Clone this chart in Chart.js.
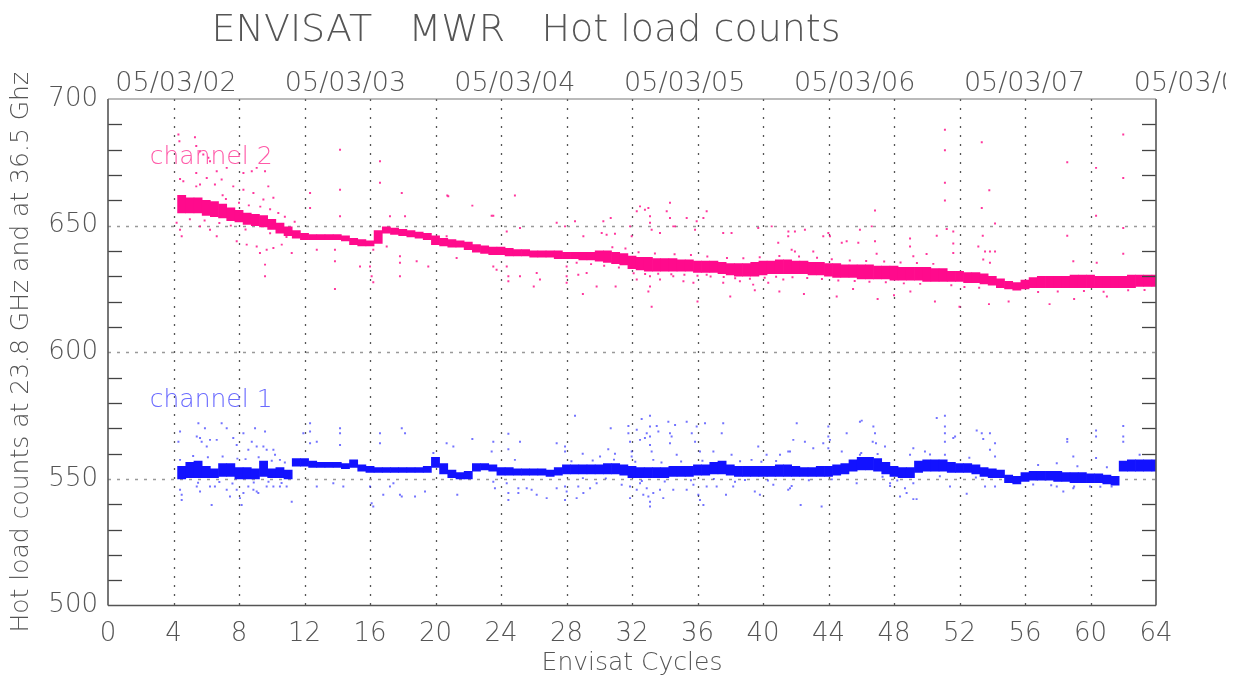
<!DOCTYPE html>
<html>
<head>
<meta charset="utf-8">
<script src="https://cdn.jsdelivr.net/npm/chart.js@4.4.1/dist/chart.umd.min.js"></script>
<style>
html,body{margin:0;padding:0;background:#fff;}
#wrap{width:1234px;height:678px;position:relative;}
</style>
</head>
<body>
<div id="wrap"><canvas id="c" width="1234" height="678"></canvas></div>
<script>
// ---------- DATA ----------
const titleText = 'ENVISAT   MWR   Hot load counts';
const xTitle = 'Envisat Cycles';
const yTitle = 'Hot load counts at 23.8 GHz and at 36.5 Ghz';
const seriesNames = ['channel 1', 'channel 2'];

// top axis (dates) : position in cycles and label
const topTickCycles = [4.15, 14.5, 24.85, 35.22, 45.6, 55.97, 66.35];
const topTickLabels = ['05/03/02', '05/03/03', '05/03/04', '05/03/05', '05/03/06', '05/03/07', '05/03/08'];

// main band: cycle centres (0.5 cycle bins)
const bandX = [
 4.5,5,5.5,6,6.5,7,7.5,8,8.5,9,
 9.5,10,10.5,11,11.5,12,12.5,13,13.5,14,
 14.5,15,15.5,16,16.5,17,17.5,18,18.5,19,
 19.5,20,20.5,21,21.5,22,22.5,23,23.5,24,
 24.5,25,25.5,26,26.5,27,27.5,28,28.5,29,
 29.5,30,30.5,31,31.5,32,32.5,33,33.5,34,
 34.5,35,35.5,36,36.5,37,37.5,38,38.5,39,
 39.5,40,40.5,41,41.5,42,42.5,43,43.5,44,
 44.5,45,45.5,46,46.5,47,47.5,48,48.5,49,
 49.5,50,50.5,51,51.5,52,52.5,53,53.5,54,
 54.5,55,55.5,56,56.5,57,57.5,58,58.5,59,
 59.5,60,60.5,61,61.5,62,62.5,63,63.5,64];

// channel 2 (36.5 GHz) band low / high
const ch2Lo = [
 655,655,655,654,653.5,653,652,651.5,650.5,650,
 649.5,648.5,647,646,645,644.5,644.5,644.5,644.5,644.5,
 644,642.5,642,642,643,647,646.5,646,645.5,645,
 644.5,642.5,642,641.5,641.5,640.5,639.5,639,638.5,638.5,
 638,638,638,637.5,637.5,637.5,637,637,637,636.5,
 636.5,636,635.5,635,634.5,633,632.5,632,632,632,
 632,632,632,631.5,631.5,631.5,631,630.5,630,630,
 630,630.5,631,631,631,631,631,630.5,630.5,630,
 629.5,629.5,629.5,629,629,629,629,628.5,628.5,628.5,
 628.5,628,628,628,628,628,627.5,627.5,627,626.5,
 625.5,625,624.5,625,625.5,625.5,625.5,625.5,625.5,625.5,
 625.5,625.5,625.5,625.5,625.5,625.5,625.5,626,626,626];
const ch2Hi = [
 662,661,661,660,659.5,658.5,657,656,655,654.5,
 654,652.5,651,649.5,648,647,646.5,646.5,646.5,646.5,
 646,645,644.5,644,648,649.5,649,648.5,648,647.5,
 647,646,645,644.5,644,643.5,642.5,642,641.5,641.5,
 641,640.5,640.5,640,640,640,640,639.5,639.5,639.5,
 639.5,640,640,639.5,639,638,637.5,637.5,637,637,
 637,636.5,636.5,636,636,636,635.5,635,635,635,
 635.5,636,636,636.5,636.5,636,636,635.5,635.5,635,
 635,634.5,634.5,634.5,634.5,634,634,634,633.5,633.5,
 633.5,633.5,633,633,632,632,631.5,631.5,631,630,
 629,628,627.5,628.5,629.5,630,630,630,630,630.5,
 630.5,630.5,630,630,630,630,630.5,630.5,630.5,630.5];

// channel 1 (23.8 GHz) band low / high
const ch1Lo = [
 550,550.5,550.5,550.5,550.5,551,551,550,550,550,
 551,550.5,550.5,550,555,555,554.5,554.5,554.5,554.5,
 554,554.5,553,552.5,552.5,552.5,552.5,552.5,552.5,552.5,
 552.5,554.5,552,550.5,550,550,553,553.5,553,551.5,
 551.5,551.5,551.5,551.5,551.5,551,551.5,552,552,552,
 552,552,552,552,551.5,550.5,550.5,550.5,550.5,550.5,
 551,551,551,551.5,551.5,552,552,551.5,551,551,
 551,551,551,551,551,551,551,551,551,551,
 551.5,552,553,553.5,553.5,553,552,551,550.5,550.5,
 552.5,553,553,553,552.5,552.5,552.5,552,551,550.5,
 550.5,548.5,548,549,549.5,549.5,549.5,549,549,548.5,
 548.5,548.5,548.5,548,547.5,553,553,553,553,553];
const ch1Hi = [
 555,556.5,557,555,554,556,556,554.5,554.5,554,
 557,554,554.5,553.5,558,558,557,556.5,556.5,556.5,
 556,557.5,555.5,555,554.5,554.5,554.5,554.5,554.5,554.5,
 555,558.5,556,553.5,552.5,553,556,556,555.5,554.5,
 554.5,554,554,554,554,553.5,554.5,555.5,555.5,555.5,
 555.5,555.5,556,556,555.5,555,554.5,554.5,554.5,554.5,
 555,555,555,555.5,555.5,556.5,557,555.5,555,555,
 555,555,555,555.5,555.5,555,554.5,554.5,555,555,
 555.5,556,557.5,558.5,558.5,558,556.5,555,554.5,554.5,
 557,557.5,557.5,557.5,556.5,556,556,555.5,554.5,554,
 553.5,551.5,551,552.5,553,553,553,553,552.5,552.5,
 552.5,552,552,551.5,551,557,557.5,557.5,557.5,557.5];

// scattered (outlier) samples [cycle, count]
const ch2Scatter = [
 [4.30,686.0],[4.36,683.3],[5.31,684.9],[5.39,681.4],[5.62,679.4],[5.82,678.1],[6.13,676.8],[6.23,675.4],
 [4.40,668.4],[4.60,667.5],[5.39,670.8],[6.03,668.8],[6.64,671.5],[7.25,672.8],[6.53,666.2],[5.39,665.5],
 [5.62,666.2],[6.94,668.2],[7.65,665.5],[8.27,670.8],[8.78,671.5],[9.08,672.8],[9.59,671.5],[8.27,664.2],
 [8.88,662.9],[9.49,660.3],[10.10,661.0],[9.79,665.5],
 [4.19,651.1],[4.40,648.4],[4.50,645.8],[5.62,649.7],[6.23,648.4],[6.64,645.8],[7.86,643.8],[8.47,642.5],
 [9.08,641.8],[9.28,639.2],[9.69,640.5],[10.10,641.2],[10.61,642.5],[11.22,639.2],[9.59,634.6],[9.59,630.0],
 [5.0,652.5],[5.9,652.0],[6.8,651.0],[7.2,660.5],[7.5,650.0],[8.0,659.0],[8.6,658.0],[9.3,657.5],[9.9,656.5],
 [10.4,655.0],[10.8,653.5],[11.4,651.5],[7.0,662.0],[8.4,648.5],[9.9,647.0],[10.9,645.5],
 [12.34,662.9],[12.34,657.0],[14.17,680.0],[14.17,664.2],[14.17,653.7],[12.75,640.5],[13.86,640.5],[13.86,635.9],
 [15.39,633.9],[16.61,675.4],[16.61,666.9],[17.22,653.7],[17.94,662.9],[18.14,653.7],[16.20,640.5],[16.00,633.9],
 [16.10,630.0],[16.20,627.6],[17.02,641.8],[17.83,637.9],[17.83,635.3],[18.85,635.9],[19.56,633.9],[20.78,661.6],
 [17.83,630.0],[13.86,625.0],
 [20.72,661.9],[22.25,657.9],[24.85,661.9],[23.43,653.9],[23.53,653.9],[24.35,647.7],[25.16,649.1],[27.40,651.1],
 [27.91,649.7],[28.52,651.7],[29.03,645.8],[30.25,651.7],[30.70,653.0],[30.15,647.1],[30.45,646.4],[30.96,646.8],
 [31.88,649.7],[31.98,645.8],[32.29,655.7],[32.49,657.6],[32.79,656.3],[33.00,657.0],[33.10,653.7],[33.10,651.1],
 [33.20,648.4],[33.71,647.1],[34.32,659.0],[34.12,655.7],[34.32,653.0],[34.52,649.7],[34.63,649.7],[35.34,653.0],
 [35.95,651.7],[36.36,653.0],[36.56,655.7],[35.85,648.4],[37.57,647.1],[38.08,647.1],[39.71,649.1],[40.53,649.7],
 [40.93,643.2],[41.54,645.8],[20.68,645.8],
 [21.29,637.2],[23.53,633.9],[23.73,632.6],[24.35,633.9],[24.45,630.0],[24.45,628.0],[25.16,630.0],[26.18,631.3],
 [26.38,628.7],[28.01,633.9],[28.01,630.0],[28.01,627.4],[28.62,635.3],[28.72,630.6],[29.23,631.3],[29.84,626.0],
 [32.29,628.7],[33.10,630.0],[33.10,626.0],[33.71,628.7],[34.52,630.0],[35.14,628.0],[35.75,627.4],[36.56,630.6],
 [37.57,627.4],[38.59,628.0],[39.40,626.7],[40.32,627.4],[41.24,628.7],
 [29.5,634.8],[30.3,634.2],[31.2,633.5],[32.1,631.2],[32.8,630.9],[33.6,631.0],[34.4,630.8],[35.2,630.6],
 [36.0,630.2],[36.8,629.9],[37.6,629.7],[38.3,629.2],[39.2,629.0],[40.1,629.4],[40.8,629.8],[41.8,629.6],
 [42.7,629.3],[43.6,628.9],[44.6,628.3],[45.6,628.1],[46.5,627.8],[47.5,627.6],[48.6,627.2],[49.6,627.0],
 [30.8,641.5],[31.6,641.0],[32.4,639.5],[33.4,639.0],[34.6,638.7],[35.6,638.4],[36.6,637.8],[37.8,637.2],
 [38.8,637.1],[39.8,637.5],[41.0,638.0],[42.2,637.8],[43.3,637.3],[44.2,636.7],[45.3,636.2],[46.3,636.0],
 [47.4,635.8],[48.4,635.4],[49.4,635.2],[50.4,634.9],
 [51.11,687.9],[51.11,679.8],[51.11,666.9],[51.11,659.9],[53.36,682.9],[53.36,657.0],[53.82,664.0],[54.17,650.8],
 [58.58,675.0],[60.34,672.8],[60.34,653.9],[62.00,686.0],[62.00,668.8],[62.00,649.1],[62.00,638.9],[58.58,646.0],
 [46.84,656.0],[46.64,649.7],[45.92,648.4],[43.99,647.1],[44.09,645.8],[43.68,645.8],[41.55,647.7],[41.95,647.7],
 [42.56,648.4],[41.75,640.5],[41.95,639.8],[43.07,639.8],[44.81,643.2],[45.11,643.8],[45.82,643.2],[46.84,643.8],
 [46.94,638.9],[48.98,644.9],[48.98,641.8],[49.18,637.9],[49.99,638.8],[50.61,646.0],[51.22,648.7],[51.62,647.7],
 [51.62,642.9],[51.62,639.2],[53.15,641.8],[53.42,646.0],[53.56,639.8],[53.86,639.8],[54.17,639.8],[53.45,636.6],
 [53.86,635.3],[58.95,635.9],[60.38,635.3],
 [44.5,622],[47,621],[50.5,620],[52,618],[55,620],[57.5,619],[41,624],[38,622],[36,620],[33,624],[33.2,618],
 [29,623],[31,626],[26,626],[42.5,623],[49,624],[53.8,619],[59,621],[61,622],[45.5,625],[39.5,624.5],[48,622.5],
 [51.5,626.5],[52.3,625.8],[53.2,625.5],[56.8,623.8],[58.0,624.0],[59.6,624.2],[60.8,623.9],[62.3,624.5],[63.3,624.6]];

const ch1Scatter = [
 [4.40,568.7],[4.30,564.7],[4.40,557.5],[5.52,572.0],[5.42,566.7],[5.62,566.1],[5.92,570.0],[5.72,564.7],
 [6.03,562.8],[6.23,565.4],[6.64,565.4],[6.94,572.0],[7.25,570.0],[7.65,566.1],[7.86,563.4],[8.27,568.0],
 [8.57,561.5],[8.78,564.7],[8.98,570.0],[9.08,562.8],[9.59,568.7],[9.49,562.8],[9.69,561.5],[10.10,561.5],
 [10.20,559.5],[10.50,557.5],[11.93,568.0],[12.34,572.0],[12.34,568.7],[12.34,564.1],[12.75,564.7],[14.17,570.0],
 [14.17,568.0],[14.17,563.4],[16.61,568.0],[16.61,564.1],[17.94,570.0],[18.14,568.0],[19.87,560.2],
 [4.40,545.7],[4.50,543.7],[4.50,541.7],[5.42,547.0],[5.62,545.0],[6.23,547.0],[6.33,539.7],[6.53,547.0],
 [7.25,545.7],[7.45,543.0],[7.86,545.7],[8.06,542.4],[8.16,539.7],[8.27,544.4],[8.57,547.0],[8.88,545.7],
 [9.08,545.0],[9.18,544.4],[9.69,547.0],[10.10,547.0],[10.50,547.0],[10.91,547.0],[11.22,541.0],[12.75,547.0],
 [13.76,548.3],[14.37,547.0],[16.00,547.0],[16.10,540.4],[16.20,539.1],[16.81,543.7],[17.22,547.0],[17.43,548.3],
 [17.83,543.7],[17.94,543.0],[18.75,543.0],[19.36,545.0],
 [5.2,559.0],[6.1,558.5],[7.0,558.8],[7.9,558.0],[8.4,557.8],[9.2,558.5],[10.0,557.2],[10.8,556.5],
 [5.5,548.5],[6.8,548.8],[7.6,548.2],[8.9,548.6],[9.8,548.9],[10.6,548.4],
 [20.68,564.1],[21.09,562.8],[22.25,565.7],[23.53,564.7],[23.43,560.8],[24.45,567.8],[24.45,561.7],[25.16,564.7],
 [24.85,557.5],[27.40,564.1],[27.91,562.8],[27.91,560.8],[28.52,574.9],[28.99,559.9],[30.05,558.8],[30.70,570.0],
 [30.55,561.7],[30.96,559.9],[31.78,570.9],[31.78,568.0],[31.88,564.7],[31.98,560.8],[31.98,558.8],[32.29,569.4],
 [32.59,573.6],[32.49,565.4],[32.79,566.1],[32.90,568.0],[33.10,574.9],[33.10,570.7],[33.10,566.7],[33.10,563.4],
 [33.20,560.8],[33.30,557.5],[33.51,570.9],[33.61,568.7],[34.22,572.6],[34.32,568.0],[34.32,564.1],[34.42,566.7],
 [34.63,571.3],[34.73,559.5],[35.34,572.6],[35.65,568.0],[35.85,564.7],[35.95,570.7],[36.15,560.8],[36.46,572.0],
 [37.57,572.0],[37.48,568.0],[38.08,559.5],[39.71,562.8],[40.22,559.5],[41.04,559.5],[41.54,560.8],[39.30,557.5],
 [36.97,560.8],
 [28.3,557.0],[29.6,557.3],[30.9,557.6],[32.2,556.8],[33.8,556.5],[35.0,556.9],[36.3,557.2],[38.6,557.0],
 [39.9,556.8],[40.8,557.1],[29.0,550.3],[30.4,550.2],[32.6,549.2],[34.0,549.0],[35.6,549.5],[37.0,550.0],
 [38.9,549.6],[40.3,549.4],[42.8,549.5],[44.2,549.8],
 [21.33,543.7],[23.53,548.9],[23.63,546.3],[24.35,548.3],[24.45,544.4],[24.45,541.7],[25.06,546.3],[25.06,544.4],
 [25.57,546.3],[25.87,545.7],[26.18,543.7],[26.79,542.4],[27.40,546.3],[27.91,547.0],[27.91,541.7],[28.01,545.0],
 [28.62,542.4],[28.72,547.0],[29.03,544.4],[29.44,546.3],[29.84,548.3],[31.37,547.7],[31.88,547.0],[31.88,542.4],
 [32.29,545.7],[32.49,548.3],[32.69,543.7],[32.90,546.3],[33.00,543.0],[33.10,541.0],[33.10,539.1],[33.30,544.4],
 [33.71,545.7],[33.91,542.4],[34.52,545.7],[35.34,545.7],[35.75,547.7],[36.05,543.7],[36.15,541.7],[36.36,539.7],
 [36.56,547.0],[37.17,547.0],[37.74,543.7],[38.18,547.0],[38.29,548.9],[39.50,545.0],[39.81,543.7],[40.63,547.7],
 [41.54,545.7],
 [42.06,572.0],[41.85,565.4],[42.56,564.7],[41.65,560.8],[43.07,562.1],[43.68,564.1],[43.99,570.7],[43.99,566.7],
 [44.09,565.4],[43.99,562.1],[44.81,560.8],[45.11,568.0],[45.92,572.6],[46.03,573.0],[45.92,559.5],[46.74,570.7],
 [46.84,568.0],[46.70,564.7],[46.90,564.1],[47.45,562.8],[49.18,562.1],[48.98,559.5],[49.89,560.8],[50.61,574.0],
 [51.11,574.9],[51.11,570.7],[51.11,568.0],[51.11,564.7],[51.62,566.1],[51.73,566.7],[51.11,559.5],[53.05,569.1],
 [53.36,568.0],[53.45,565.7],[53.86,568.0],[53.86,561.5],[54.17,564.1],[54.17,558.8],[57.94,556.2],[58.58,565.7],
 [58.58,564.7],[58.95,558.8],[60.34,569.1],[60.34,566.7],[60.34,558.2],[62.00,570.9],[62.00,566.7],[62.00,564.7],
 [41.65,546.3],[41.75,547.2],[42.30,539.7],[43.58,539.1],[45.72,548.3],[47.76,548.3],[47.76,547.2],[48.37,543.0],
 [48.67,546.3],[48.77,544.4],[49.18,548.3],[49.18,542.0],[49.38,542.0],[51.42,547.0],[52.44,544.1],[53.56,547.0],
 [54.17,547.0],[57.94,547.0],[58.34,545.0],[58.95,546.3],[59.97,547.0],[61.29,547.0],
 [46.0,560.2],[47.0,559.8],[50.2,559.6],[52.6,558.3],[56.8,555.5],[59.2,555.0],[61.0,554.6],[63.0,559.5],
 [47.3,550.8],[48.2,549.4],[50.8,551.0],[53.0,550.5],[56.5,547.8],[57.6,547.5],[59.0,547.0],[60.6,546.9]];

// axis structure
const xGridLines = [4,8,12,16,20,24,28,32,36,40,44,48,52,56,60];
const yGridLines = [550,600,650];
const yMinorTicks = [510,520,530,540,560,570,580,590,610,620,630,640,660,670,680,690];

// ---------- COLOURS / STYLE ----------
const PINK = '#ff0a8c';
const BLUE = '#1212ff';
const FONT = 'DejaVu Sans';
const FW = '200';
const TXT = '#555';

const bandData = (lo, hi) => bandX.map((x, i) => ({x: x, y: [lo[i], hi[i]]}));
const ptData = arr => arr.map(p => ({x: p[0], y: p[1]}));

const deco = {
  id: 'deco',
  beforeDatasetsDraw(chart) {
    const {ctx, chartArea: a, scales: {x, y}} = chart;
    ctx.save();
    ctx.lineWidth = 1.3;
    ctx.strokeStyle = '#555';
    ctx.setLineDash([2, 7]);
    xGridLines.forEach(v => {
      const px = Math.round(x.getPixelForValue(v)) + 0.5;
      ctx.beginPath(); ctx.moveTo(px, a.top); ctx.lineTo(px, a.bottom); ctx.stroke();
    });
    ctx.strokeStyle = '#999';
    ctx.lineWidth = 1.6;
    ctx.setLineDash([3, 6]);
    yGridLines.forEach(v => {
      const py = Math.round(y.getPixelForValue(v)) + 0.5;
      ctx.beginPath(); ctx.moveTo(a.left, py); ctx.lineTo(a.right, py); ctx.stroke();
    });
    ctx.restore();
  },
  afterDatasetsDraw(chart) {
    const {ctx, chartArea: a, scales: {x, y}} = chart;
    ctx.save();
    ctx.setLineDash([]);
    ctx.strokeStyle = '#444';
    ctx.lineWidth = 1.3;
    yMinorTicks.forEach(v => {
      const py = Math.round(y.getPixelForValue(v)) + 0.5;
      ctx.beginPath(); ctx.moveTo(a.left, py); ctx.lineTo(a.left + 14, py); ctx.stroke();
      ctx.beginPath(); ctx.moveTo(a.right, py); ctx.lineTo(a.right - 14, py); ctx.stroke();
    });
    ctx.strokeStyle = '#555';
    ctx.lineWidth = 1.6;
    ctx.beginPath(); ctx.moveTo(a.left, a.top); ctx.lineTo(a.left, a.bottom); ctx.stroke();
    ctx.beginPath(); ctx.moveTo(a.right, a.top); ctx.lineTo(a.right, a.bottom); ctx.stroke();
    ctx.beginPath(); ctx.moveTo(a.left, a.bottom); ctx.lineTo(a.right, a.bottom); ctx.stroke();
    ctx.strokeStyle = '#777';
    ctx.lineWidth = 1.2;
    ctx.beginPath(); ctx.moveTo(a.left, a.top); ctx.lineTo(a.right, a.top); ctx.stroke();
    ctx.restore();
  },
  afterDraw(chart) {
    const {ctx, chartArea: a, scales: {x, y}} = chart;
    ctx.save();
    ctx.fillStyle = '#555';
    ctx.font = FW + ' 38px "' + FONT + '"';
    ctx.textAlign = 'center';
    ctx.textBaseline = 'alphabetic';
    ctx.fillText(titleText, 526, 41);
    ctx.beginPath(); ctx.rect(0, 0, 1226, 678); ctx.clip();
    ctx.fillStyle = TXT;
    ctx.font = FW + ' 27px "' + FONT + '"';
    topTickCycles.forEach((c, i) => {
      ctx.fillText(topTickLabels[i], x.getPixelForValue(c), 91);
    });
    ctx.restore();
    ctx.save();
    ctx.font = FW + ' 25px "' + FONT + '"';
    ctx.textAlign = 'left';
    ctx.fillStyle = '#ff5aa8';
    ctx.fillText(seriesNames[1], x.getPixelForValue(2.55), y.getPixelForValue(674.5));
    ctx.fillStyle = '#6a6aff';
    ctx.fillText(seriesNames[0], x.getPixelForValue(2.55), y.getPixelForValue(578.5));
    ctx.restore();
  }
};

new Chart(document.getElementById('c'), {
  type: 'bar',
  data: {
    datasets: [
      {label: seriesNames[1] + ' band', data: bandData(ch2Lo, ch2Hi), backgroundColor: PINK, borderWidth: 0,
       barPercentage: 1, categoryPercentage: 1, grouped: false, clip: 0, order: 2},
      {label: seriesNames[0] + ' band', data: bandData(ch1Lo, ch1Hi), backgroundColor: BLUE, borderWidth: 0,
       barPercentage: 1, categoryPercentage: 1, grouped: false, clip: 0, order: 2},
      {type: 'scatter', label: seriesNames[1], data: ptData(ch2Scatter), backgroundColor: 'rgba(255,20,140,0.85)',
       pointRadius: 1.4, borderWidth: 0, pointStyle: 'rect', clip: 0, order: 1},
      {type: 'scatter', label: seriesNames[0], data: ptData(ch1Scatter), backgroundColor: 'rgba(40,40,255,0.65)',
       pointRadius: 1.4, borderWidth: 0, pointStyle: 'rect', clip: 0, order: 1}
    ]
  },
  options: {
    responsive: false,
    animation: false,
    layout: {padding: {top: 99, right: 78, left: 0, bottom: 0}},
    plugins: {legend: {display: false}, tooltip: {enabled: false}, title: {display: false}},
    scales: {
      x: {
        type: 'linear', min: 0, max: 64, offset: false,
        grid: {display: false, drawTicks: false}, border: {display: false},
        ticks: {stepSize: 4, color: TXT, font: {family: FONT, size: 26, weight: FW}, padding: 13, maxRotation: 0, autoSkip: false},
        title: {display: true, text: xTitle, color: TXT, font: {family: FONT, size: 25, weight: FW}, padding: {top: 0, bottom: 0}},
        afterFit(s) { s.height = 72.5; }
      },
      y: {
        type: 'linear', min: 500, max: 700,
        grid: {display: false, drawTicks: false}, border: {display: false},
        ticks: {stepSize: 50, color: TXT, font: {family: FONT, size: 26, weight: FW}, padding: 10},
        title: {display: true, text: yTitle, color: TXT, font: {family: FONT, size: 25, weight: FW}, padding: {top: 6, bottom: 0}},
        afterFit(s) { s.width = 108; }
      }
    }
  },
  plugins: [deco]
});
</script>
</body>
</html>
